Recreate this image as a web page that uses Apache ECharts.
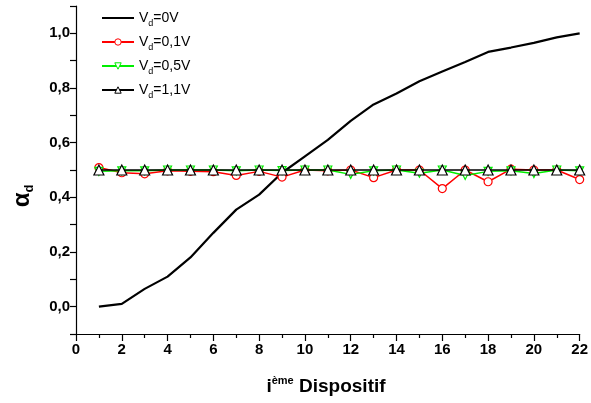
<!DOCTYPE html>
<html>
<head>
<meta charset="utf-8">
<script src="https://cdn.jsdelivr.net/npm/echarts@6/dist/echarts.min.js"></script>
<style>
html,body{margin:0;padding:0;background:#fff;}
#chart{width:591px;height:403px;}
</style>
</head>
<body>
<div id="chart"></div>
<script>
// x: device index
const devices = [1,2,3,4,5,6,7,8,9,10,11,12,13,14,15,16,17,18,19,20,21,22];
const seriesNames = ['Vd=0V','Vd=0,1V','Vd=0,5V','Vd=1,1V'];
const legendLabels = {
  'Vd=0V': '=0V',
  'Vd=0,1V': '=0,1V',
  'Vd=0,5V': '=0,5V',
  'Vd=1,1V': '=1,1V'
};
const vd0   = [0.00,0.01,0.065,0.11,0.18,0.27,0.355,0.41,0.49,0.55,0.61,0.68,0.74,0.78,0.825,0.86,0.895,0.932,0.948,0.965,0.985,1.00];
const vd01  = [0.509,0.49,0.486,0.497,0.495,0.494,0.48,0.495,0.474,0.50,0.497,0.50,0.472,0.50,0.50,0.432,0.50,0.457,0.503,0.50,0.50,0.465];
const vd05  = [0.495,0.497,0.497,0.50,0.50,0.50,0.497,0.50,0.498,0.50,0.50,0.484,0.497,0.50,0.488,0.50,0.48,0.495,0.497,0.487,0.50,0.497];
const vd11  = [0.50,0.50,0.50,0.50,0.50,0.50,0.50,0.50,0.50,0.50,0.50,0.50,0.50,0.50,0.50,0.50,0.50,0.50,0.50,0.50,0.50,0.50];

const pairs = arr => devices.map((d,i)=>[d,arr[i]]);
const FONT = '"Liberation Sans", Arial, sans-serif';

const chart = echarts.init(document.getElementById('chart'), null, {renderer:'canvas'});
chart.setOption({
  animation:false,
  backgroundColor:'#fff',
  grid:{left:76,right:9,top:6,bottom:69,containLabel:false},
  xAxis:{
    type:'value',min:0,max:22,interval:2,
    axisLine:{show:true,onZero:false,lineStyle:{color:'#000',width:1.2}},
    axisTick:{show:true,inside:false,length:7,lineStyle:{color:'#000',width:1.2}},
    minorTick:{show:true,splitNumber:2,length:4,lineStyle:{color:'#000',width:1.2}},
    splitLine:{show:false},
    axisLabel:{color:'#000',fontFamily:FONT,fontWeight:'bold',fontSize:15,margin:8},
  },
  yAxis:{
    type:'value',min:-0.1,max:1.1,interval:0.1,
    axisLine:{show:true,onZero:false,lineStyle:{color:'#000',width:1.2}},
    axisTick:{show:true,inside:false,length:6,lineStyle:{color:'#000',width:1.2}},
    splitLine:{show:false},
    axisLabel:{color:'#000',fontFamily:FONT,fontWeight:'bold',fontSize:15,margin:6,
      formatter:function(v){
        const k=Math.round(v*10);
        if(k<0||k%2!==0||k>10) return '';
        return (k/10).toFixed(1).replace('.',',');
      }}
  },
  legend:{
    orient:'vertical',left:96,top:6,itemWidth:32,itemHeight:8,itemGap:7,
    data:[
      {name:seriesNames[0],itemStyle:{opacity:0}},
      {name:seriesNames[1],itemStyle:{borderWidth:1}},
      {name:seriesNames[2],itemStyle:{borderWidth:1}},
      {name:seriesNames[3],itemStyle:{borderWidth:1}}
    ],
    formatter:function(n){return '{v|V}{s|d}{v|'+legendLabels[n]+'}';},
    textStyle:{
      fontFamily:FONT,color:'#000',
      rich:{
        v:{fontSize:14,fontFamily:FONT,color:'#000',lineHeight:20},
        s:{fontSize:9,fontFamily:FONT,color:'#000',lineHeight:10,verticalAlign:'bottom'}
      }
    }
  },
  graphic:[
    {type:'text',x:22,y:196,rotation:Math.PI/2,
      style:{
        text:'{a|α}{s|d}',
        fill:'#000',
        align:'center',verticalAlign:'middle',
        rich:{
          a:{fontSize:24,fontWeight:'bold',fontFamily:FONT,fill:'#000',lineHeight:28},
          s:{fontSize:13,fontWeight:'bold',fontFamily:FONT,fill:'#000',lineHeight:14,verticalAlign:'bottom'}
        }
      }},
    {type:'text',x:326,y:387,
      style:{
        text:'{m|i}{p|ème}{m| Dispositif}',
        fill:'#000',align:'center',verticalAlign:'middle',
        rich:{
          m:{fontSize:19,fontWeight:'bold',fontFamily:FONT,fill:'#000',lineHeight:24},
          p:{fontSize:11,fontWeight:'bold',fontFamily:FONT,fill:'#000',lineHeight:12,verticalAlign:'top'}
        }
      }}
  ],
  series:[
    {name:seriesNames[0],type:'line',data:pairs(vd0),symbol:'none',
      lineStyle:{color:'#000',width:2.2},itemStyle:{color:'#000'},z:2},
    {name:seriesNames[1],type:'line',data:pairs(vd01),symbol:'circle',symbolSize:8,
      lineStyle:{color:'#ff0000',width:1.5},
      itemStyle:{color:'#fff',borderColor:'#ff0000',borderWidth:1.2},z:3},
    {name:seriesNames[2],type:'line',data:pairs(vd05),symbol:'triangle',symbolRotate:180,symbolSize:8,
      lineStyle:{color:'#00ee00',width:1.5},
      itemStyle:{color:'#fff',borderColor:'#00ee00',borderWidth:1.2},z:4},
    {name:seriesNames[3],type:'line',data:pairs(vd11),symbol:'triangle',symbolSize:10,
      lineStyle:{color:'#000',width:1.5},
      itemStyle:{color:'#fff',borderColor:'#000',borderWidth:1.2},z:5}
  ]
});
</script>
</body>
</html>
